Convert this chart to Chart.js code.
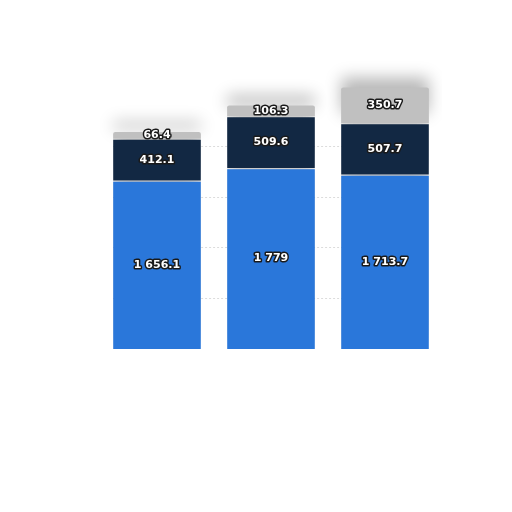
<!DOCTYPE html>
<html>
<head>
<meta charset="utf-8">
<script src="https://cdn.jsdelivr.net/npm/chart.js@4.4.1/dist/chart.umd.min.js"></script>
<style>
  html, body { margin: 0; padding: 0; background: #ffffff; }
  #wrap { width: 512px; height: 512px; }
</style>
</head>
<body>
<div id="wrap"><canvas id="stackChart"></canvas></div>
<script>
// --- Data ---
const categories = ['A', 'B', 'C'];
const baseValues = [1656.1, 1779, 1713.7];
const midValues = [412.1, 509.6, 507.7];
const topValues = [66.4, 106.3, 350.7];

// thousands separated with a space, like "1 656.1"
function formatValue(v) {
    const parts = String(v).split('.');
    parts[0] = parts[0].replace(/\B(?=(\d{3})+(?!\d))/g, ' ');
    return parts.join('.');
}

// faint dotted grid, only between the outer bar edges
const gridPlugin = {
    id: 'innerGrid',
    beforeDatasetsDraw(chart) {
        const ctx = chart.ctx;
        const bars = chart.getDatasetMeta(0).data;
        const first = bars[0], last = bars[bars.length - 1];
        const x0 = first.x - first.width / 2;
        const x1 = last.x + last.width / 2;
        const y = chart.scales.y;
        ctx.save();
        ctx.strokeStyle = '#dcdcdc';
        ctx.lineWidth = 1;
        ctx.setLineDash([2, 2]);
        y.ticks.forEach(t => {
            if (t.value === 0 || t.value > 2000) return;
            const py = Math.round(y.getPixelForValue(t.value)) + 0.5;
            ctx.beginPath();
            ctx.moveTo(x0, py);
            ctx.lineTo(x1, py);
            ctx.stroke();
        });
        ctx.restore();
    }
};

// soft blurred shadow behind the bars
const shadowPlugin = {
    id: 'barShadow',
    beforeDatasetsDraw(chart) {
        const ctx = chart.ctx;
        ctx.save();
        ctx.shadowColor = 'rgba(0, 0, 0, 0.28)';
        ctx.shadowBlur = 16;
        ctx.shadowOffsetX = 0;
        ctx.shadowOffsetY = -10;
    },
    afterDatasetsDraw(chart) {
        chart.ctx.restore();
    }
};

// outlined value labels at the middle of each segment
const labelPlugin = {
    id: 'segmentLabels',
    afterDatasetsDraw(chart) {
        const ctx = chart.ctx;
        ctx.save();
        ctx.font = 'bold 11px "DejaVu Sans"';
        ctx.textAlign = 'center';
        ctx.textBaseline = 'middle';
        ctx.lineJoin = 'round';
        chart.data.datasets.forEach((ds, i) => {
            chart.getDatasetMeta(i).data.forEach((bar, j) => {
                const text = formatValue(ds.data[j]);
                const y = (bar.y + bar.base) / 2;
                ctx.lineWidth = 3;
                ctx.strokeStyle = '#1a1a1a';
                ctx.strokeText(text, bar.x, y);
                ctx.fillStyle = '#ffffff';
                ctx.fillText(text, bar.x, y);
            });
        });
        ctx.restore();
    }
};

const ctx = document.getElementById('stackChart').getContext('2d');
new Chart(ctx, {
    type: 'bar',
    data: {
        labels: categories,
        datasets: [
            { data: baseValues, backgroundColor: '#2a77da', borderColor: '#ffffff', borderWidth: { top: 1 }, borderSkipped: 'bottom' },
            { data: midValues, backgroundColor: '#122843', borderColor: '#ffffff', borderWidth: { top: 1 }, borderSkipped: 'bottom' },
            { data: topValues, backgroundColor: '#c0c0c0', borderWidth: 0, borderRadius: { topLeft: 2, topRight: 2 }, borderSkipped: false }
        ]
    },
    options: {
        responsive: true,
        maintainAspectRatio: false,
        animation: false,
        layout: { padding: { left: 100, right: 70, top: 44, bottom: 163 } },
        datasets: { bar: { categoryPercentage: 0.77, barPercentage: 1 } },
        scales: {
            x: { stacked: true, display: false },
            y: {
                stacked: true,
                min: 0,
                max: 3000,
                afterFit(scale) { scale.width = 0; },
                ticks: { display: false, stepSize: 500 },
                border: { display: false },
                grid: { display: false }
            }
        },
        plugins: {
            legend: { display: false },
            tooltip: { enabled: false }
        }
    },
    plugins: [gridPlugin, shadowPlugin, labelPlugin]
});
</script>
</body>
</html>
